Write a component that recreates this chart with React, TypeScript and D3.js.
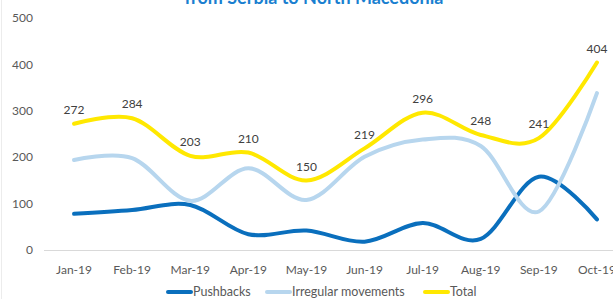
import { useEffect, useRef } from "react";
import * as d3 from "d3";

const MONTHS = ["Jan-19", "Feb-19", "Mar-19", "Apr-19", "May-19", "Jun-19", "Jul-19", "Aug-19", "Sep-19", "Oct-19"];
const PUSHBACKS = [78, 86, 97, 34, 42, 18, 58, 24, 158, 66];
const IRREGULAR = [194, 198, 106, 176, 108, 201, 238, 224, 83, 338];
const TOTAL = [272, 284, 203, 210, 150, 219, 296, 248, 241, 404];
const Y_TICKS = [0, 100, 200, 300, 400, 500];

const SERIES = [
  { name: "Pushbacks", values: PUSHBACKS, color: "#0a6fbd" },
  { name: "Irregular movements", values: IRREGULAR, color: "#b7d6ee" },
  { name: "Total", values: TOTAL, color: "#ffe800" },
];

const W = 613;
const H = 299;

export default function App() {
  const svgRef = useRef<SVGSVGElement>(null);

  useEffect(() => {
    if (!svgRef.current) return;
    const svg = d3.select(svgRef.current);
    svg.selectAll("*").remove();

    const font = "Lato, 'Open Sans', sans-serif";

    const x = d3.scaleBand<string>().domain(MONTHS).range([45, 626]);
    const y = d3.scaleLinear().domain([0, 500]).range([250, 18]);
    const cx = (m: string) => x(m)! + x.bandwidth() / 2;

    // faint chart border on the left
    svg.append("line")
      .attr("x1", 1.5).attr("x2", 1.5).attr("y1", 0).attr("y2", H)
      .attr("stroke", "#ececec");

    // title (cut off at top)
    svg.append("text")
      .attr("x", 314).attr("y", 4)
      .attr("text-anchor", "middle")
      .attr("font-family", font)
      .attr("font-weight", "bold")
      .attr("font-size", 18)
      .attr("fill", "#1a7fd0")
      .text("from Serbia to North Macedonia");

    // baseline
    svg.append("line")
      .attr("x1", 44).attr("x2", W).attr("y1", y(0) + 0.5).attr("y2", y(0) + 0.5)
      .attr("stroke", "#d9d9d9");

    // y tick labels
    svg.selectAll(".ytick")
      .data(Y_TICKS)
      .join("text")
      .attr("x", 33)
      .attr("y", (d) => y(d))
      .attr("dy", "0.35em")
      .attr("text-anchor", "end")
      .attr("font-family", font)
      .attr("font-size", 12)
      .attr("fill", "#595959")
      .text((d) => d);

    // x tick labels
    svg.selectAll(".xtick")
      .data(MONTHS)
      .join("text")
      .attr("x", (d) => cx(d))
      .attr("y", 270)
      .attr("dy", "0.35em")
      .attr("text-anchor", "middle")
      .attr("font-family", font)
      .attr("font-size", 12)
      .attr("fill", "#595959")
      .text((d) => d);

    const line = d3.line<number>()
      .x((_, i) => cx(MONTHS[i]))
      .y((d) => y(d))
      .curve(d3.curveCardinal.tension(0));

    SERIES.forEach((s) => {
      svg.append("path")
        .attr("d", line(s.values)!)
        .attr("fill", "none")
        .attr("stroke", s.color)
        .attr("stroke-width", 4)
        .attr("stroke-linecap", "round");
    });

    // data labels on total
    svg.selectAll(".dlabel")
      .data(TOTAL)
      .join("text")
      .attr("x", (_, i) => cx(MONTHS[i]))
      .attr("y", (d) => y(d) - 14)
      .attr("dy", "0.35em")
      .attr("text-anchor", "middle")
      .attr("font-family", font)
      .attr("font-size", 12)
      .attr("fill", "#404040")
      .text((d) => d);

    // legend
    const legendX = [168, 267, 425];
    SERIES.forEach((s, i) => {
      const g = svg.append("g").attr("transform", `translate(${legendX[i]},292)`);
      g.append("line")
        .attr("x1", 0).attr("x2", 23).attr("y1", 0).attr("y2", 0)
        .attr("stroke", s.color)
        .attr("stroke-width", 4)
        .attr("stroke-linecap", "round");
      g.append("text")
        .attr("x", 25).attr("y", 0).attr("dy", "0.35em")
        .attr("font-family", font)
        .attr("font-size", 12.5)
        .attr("fill", "#595959")
        .text(s.name);
    });
  }, []);

  return (
    <svg
      ref={svgRef}
      width={W}
      height={H}
      style={{ position: "absolute", left: 0, top: 0, background: "#fff" }}
    />
  );
}
